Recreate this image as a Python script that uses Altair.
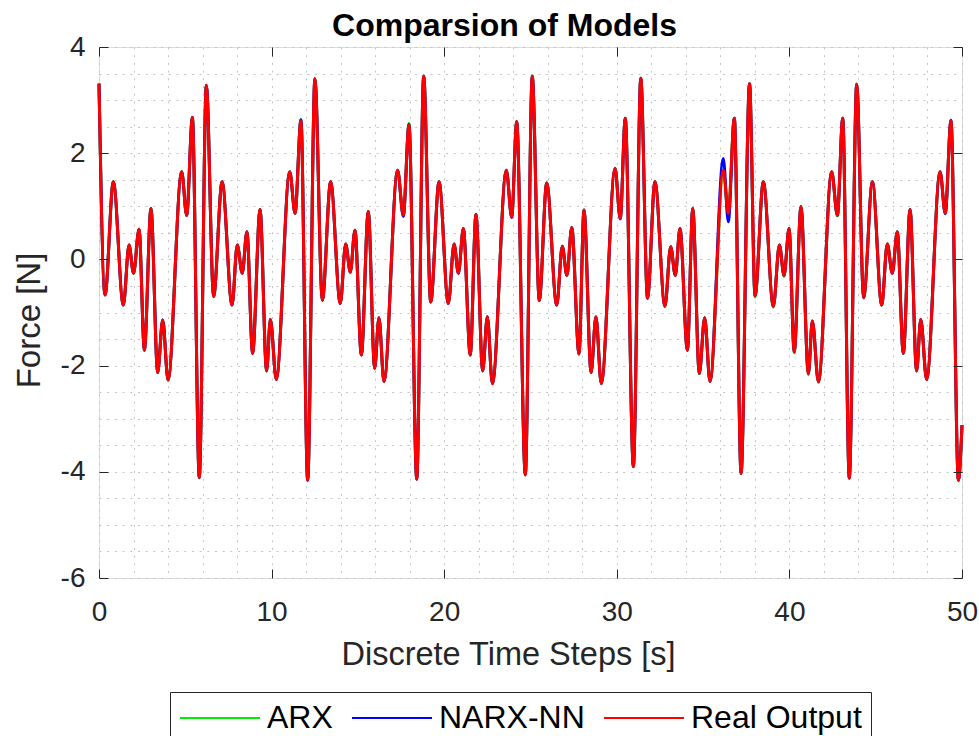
import altair as alt
import pandas as pd

# Measured force [N] at each discrete time step [s] (turning points of the response)
time_s = [
    0.00, 0.35, 0.83, 1.41, 1.74, 2.00, 2.32, 2.63, 3.01, 3.40, 3.69, 4.00, 4.79, 5.08, 5.41, 5.81,
    6.22, 6.64, 7.13, 7.71, 8.01, 8.30, 8.57, 8.90, 9.33, 9.71, 9.93, 10.27, 11.05, 11.36, 11.70, 12.09,
    12.51, 12.94, 13.42, 13.98, 14.29, 14.56, 14.83, 15.20, 15.60, 15.97, 16.22, 16.51, 17.30, 17.63, 17.96, 18.41,
    18.81, 19.22, 19.70, 20.24, 20.57, 20.82, 21.11, 21.51, 21.84, 22.23, 22.50, 22.79, 23.60, 23.91, 24.20, 24.70,
    25.10, 25.51, 25.94, 26.52, 26.84, 27.11, 27.39, 27.81, 28.10, 28.51, 28.79, 29.10, 29.90, 30.20, 30.49, 30.96,
    31.39, 31.78, 32.21, 32.79, 33.12, 33.39, 33.66, 34.09, 34.40, 34.78, 35.09, 35.40, 36.17, 36.46, 36.81, 37.20,
    37.69, 38.01, 38.49, 39.07, 39.42, 39.69, 39.98, 40.28, 40.67, 41.10, 41.33, 41.68, 42.45, 42.78, 43.09, 43.47,
    43.90, 44.30, 44.81, 45.35, 45.67, 45.96, 46.25, 46.60, 46.99, 47.37, 47.61, 47.95, 48.73, 49.03, 49.36, 49.79,
    50.00,
]

real_output = [
    3.31, -0.67, 1.46, -0.86, 0.27, -0.26, 0.57, -1.71, 0.96, -2.13, -1.14, -2.27, 1.65, 0.83, 2.67, -4.11,
    3.28, -0.70, 1.46, -0.86, 0.27, -0.26, 0.52, -1.77, 0.94, -2.10, -1.13, -2.26, 1.65, 0.87, 2.61, -4.16,
    3.40, -0.77, 1.46, -0.83, 0.29, -0.24, 0.55, -1.80, 0.90, -2.05, -1.10, -2.30, 1.68, 0.83, 2.53, -4.14,
    3.45, -0.80, 1.46, -0.83, 0.29, -0.26, 0.58, -1.80, 0.85, -2.10, -1.08, -2.34, 1.68, 0.80, 2.59, -4.06,
    3.45, -0.77, 1.44, -0.86, 0.25, -0.30, 0.60, -1.78, 0.93, -2.13, -1.08, -2.34, 1.71, 0.77, 2.66, -3.90,
    3.41, -0.73, 1.46, -0.88, 0.24, -0.30, 0.58, -1.71, 0.96, -2.15, -1.10, -2.30, 1.68, 0.87, 2.66, -4.03,
    3.31, -0.68, 1.46, -0.88, 0.27, -0.30, 0.58, -1.74, 0.99, -2.15, -1.16, -2.30, 1.65, 0.83, 2.66, -4.12,
    3.30, -0.72, 1.46, -0.86, 0.29, -0.26, 0.52, -1.77, 0.94, -2.10, -1.13, -2.26, 1.65, 0.87, 2.61, -4.16,
    -3.12,
]

narx_nn = [
    3.31, -0.67, 1.46, -0.86, 0.27, -0.26, 0.57, -1.71, 0.96, -2.13, -1.14, -2.27, 1.65, 0.83, 2.67, -4.11,
    3.28, -0.70, 1.46, -0.86, 0.27, -0.26, 0.52, -1.77, 0.94, -2.10, -1.13, -2.26, 1.65, 0.87, 2.63, -4.16,
    3.40, -0.77, 1.46, -0.83, 0.29, -0.24, 0.55, -1.80, 0.90, -2.05, -1.10, -2.30, 1.68, 0.81, 2.54, -4.14,
    3.45, -0.80, 1.46, -0.83, 0.29, -0.26, 0.58, -1.80, 0.85, -2.10, -1.08, -2.34, 1.68, 0.79, 2.59, -4.05,
    3.45, -0.77, 1.44, -0.86, 0.25, -0.30, 0.60, -1.78, 0.93, -2.13, -1.08, -2.34, 1.71, 0.76, 2.66, -3.90,
    3.41, -0.73, 1.46, -0.88, 0.24, -0.30, 0.58, -1.71, 0.96, -2.15, -1.10, -2.30, 1.90, 0.71, 2.66, -4.03,
    3.31, -0.68, 1.46, -0.88, 0.27, -0.30, 0.58, -1.74, 0.99, -2.15, -1.16, -2.30, 1.65, 0.83, 2.66, -4.12,
    3.30, -0.72, 1.46, -0.86, 0.29, -0.26, 0.52, -1.77, 0.94, -2.10, -1.13, -2.26, 1.65, 0.86, 2.62, -4.16,
    -3.12,
]

arx = [
    3.31, -0.67, 1.46, -0.86, 0.27, -0.26, 0.57, -1.71, 0.96, -2.13, -1.14, -2.27, 1.65, 0.83, 2.67, -4.11,
    3.28, -0.70, 1.46, -0.86, 0.27, -0.26, 0.52, -1.77, 0.94, -2.10, -1.13, -2.26, 1.65, 0.87, 2.63, -4.16,
    3.40, -0.77, 1.46, -0.83, 0.29, -0.24, 0.55, -1.80, 0.90, -2.05, -1.10, -2.30, 1.68, 0.83, 2.56, -4.14,
    3.45, -0.80, 1.46, -0.83, 0.29, -0.26, 0.58, -1.80, 0.85, -2.10, -1.08, -2.34, 1.68, 0.80, 2.59, -4.06,
    3.45, -0.77, 1.44, -0.86, 0.25, -0.30, 0.60, -1.78, 0.93, -2.13, -1.08, -2.34, 1.71, 0.77, 2.66, -3.90,
    3.41, -0.73, 1.46, -0.88, 0.24, -0.30, 0.58, -1.71, 0.96, -2.15, -1.10, -2.30, 1.68, 0.87, 2.66, -4.03,
    3.31, -0.71, 1.46, -0.90, 0.27, -0.32, 0.58, -1.76, 1.00, -2.17, -1.16, -2.32, 1.65, 0.82, 2.66, -4.12,
    3.30, -0.72, 1.46, -0.86, 0.29, -0.26, 0.52, -1.77, 0.94, -2.10, -1.13, -2.26, 1.65, 0.87, 2.61, -4.16,
    -3.12,
]

model_names = ["ARX", "NARX-NN", "Real Output"]
x_label_values = [0, 10, 20, 30, 40, 50]
y_label_values = [-6, -4, -2, 0, 2, 4]
x_grid_values = list(range(0, 51, 2))
y_grid_values = [v / 2 for v in range(-12, 9)]

frames = [
    pd.DataFrame({"time": time_s, "force": vals, "model": name})
    for name, vals in zip(model_names, [arx, narx_nn, real_output])
]
df = pd.concat(frames, ignore_index=True)

W, H = 863, 531
FONT = "Liberation Sans"
INK = "#262626"
GRID = "#c4c4c4"

x_scale = alt.Scale(domain=[0, 50], nice=False, zero=False)
y_scale = alt.Scale(domain=[-6, 4], nice=False, zero=False)

# legend key: an 80 px line drawn from a 32 px symbol box (path units are half the box)
color = alt.Color(
    "model:N",
    scale=alt.Scale(domain=model_names, range=["#00ee00", "#0000ff", "#ff0000"]),
    legend=alt.Legend(
        orient="none", legendX=71, legendY=645, direction="horizontal", title=None,
        symbolType="M-1,0H4", symbolSize=1024, symbolStrokeWidth=2,
        labelFont=FONT, labelFontSize=32, labelColor="black", labelOffset=54, labelLimit=400,
        columnPadding=15, padding=9, strokeColor=INK, fillColor="white",
    ),
)

# labelled axes with dotted grid
x_main = alt.Axis(
    values=x_grid_values, grid=True, gridColor=GRID, gridDash=[2, 5.7], gridWidth=1,
    ticks=False, domain=False, labelFlush=False, labelOverlap=False,
    labelExpr="datum.value % 10 === 0 ? '' + datum.value : ''",
    labelFont=FONT, labelFontSize=28, labelColor=INK, labelPadding=20,
    title="Discrete Time Steps [s]", titleFont=FONT, titleFontSize=32.5, titleFontWeight="normal",
    titleColor=INK, titleX=409, titleY=86, titleAlign="center", titleBaseline="alphabetic", zindex=0,
)
y_main = alt.Axis(
    values=y_grid_values, grid=True, gridColor=GRID, gridDash=[2, 5.7], gridWidth=1,
    ticks=False, domain=False, labelFlush=False, labelOverlap=False,
    labelExpr="datum.value % 2 === 0 ? '' + datum.value : ''",
    labelFont=FONT, labelFontSize=28, labelColor=INK, labelPadding=14,
    title="Force [N]", titleFont=FONT, titleFontSize=33, titleFontWeight="normal",
    titleColor=INK, titleX=-60, titleY=273, titleAngle=270, titleAlign="center",
    titleBaseline="alphabetic", zindex=0,
)


def tick_axis(orient, offset, values):
    # inward-pointing ticks: an axis on the opposite side shifted across the plot
    return alt.Axis(
        orient=orient, offset=offset, values=values, labels=False, grid=False, domain=False,
        ticks=True, tickSize=9, tickWidth=1, tickColor=INK, title=None, zindex=1,
    )


def series(name, x_axis, y_axis):
    return (
        alt.Chart(df)
        .transform_filter(alt.datum.model == name)
        .mark_line(interpolate="monotone", strokeWidth=3)
        .encode(
            x=alt.X("time:Q", scale=x_scale, axis=x_axis),
            y=alt.Y("force:Q", scale=y_scale, axis=y_axis),
            color=color,
        )
    )


chart = (
    alt.layer(
        series("ARX", x_main, y_main),
        series("NARX-NN", tick_axis("top", -H, x_label_values), tick_axis("right", -W, y_label_values)),
        series("Real Output", tick_axis("bottom", -H, x_label_values), tick_axis("left", -W, y_label_values)),
    )
    .resolve_axis(x="independent", y="independent")
    .properties(
        width=W, height=H, autosize="none",
        padding={"left": 99, "top": 47, "right": 17, "bottom": 158},
        title=alt.TitleParams(
            text="Comparsion of Models", font=FONT, fontSize=32, fontWeight="bold", color="black",
            anchor="middle", frame="group", dx=-26, dy=14, offset=4,
        ),
    )
    .configure_view(stroke=INK, strokeWidth=1)
    .configure(background="white")
)

chart.save("out.html", embed_options={"renderer": "svg", "actions": False})
